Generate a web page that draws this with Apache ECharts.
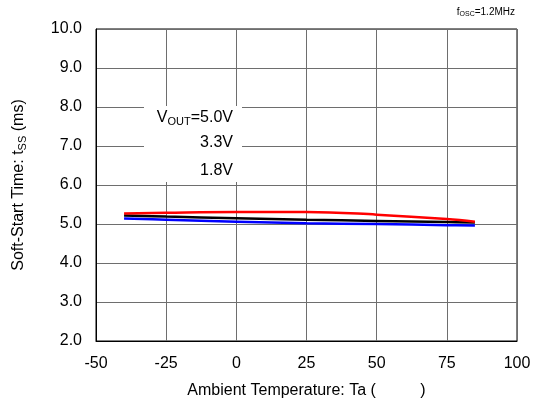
<!DOCTYPE html>
<html><head><meta charset="utf-8">
<script src="https://cdn.jsdelivr.net/npm/echarts@6/dist/echarts.min.js"></script>
<style>html,body{margin:0;padding:0;background:#fff}#c{width:536px;height:407px}</style>
</head><body><div id="c"></div>
<script>
const temps = [-40, -25, 0, 25, 50, 75, 85];
const v50 = [5.27, 5.29, 5.31, 5.31, 5.24, 5.13, 5.06];
const v33 = [5.22, 5.19, 5.15, 5.11, 5.08, 5.05, 5.04];
const v18 = [5.14, 5.11, 5.06, 5.02, 5.00, 4.97, 4.96];
const xTicks = [-50, -25, 0, 25, 50, 75, 100];
const yTicks = [2, 3, 4, 5, 6, 7, 8, 9, 10];
const seriesNames = ['5.0V', '3.3V', '1.8V'];
const colors = ['#ff0000', '#000000', '#0000ff'];

const F = 'Liberation Sans, Arial, sans-serif';
const chart = echarts.init(document.getElementById('c'), null, {renderer: 'canvas'});
const mk = (vals) => temps.map((t, i) => [t, vals[i]]);
chart.setOption({
  animation: false,
  textStyle: {fontFamily: F},
  grid: {left: 96, right: 19, top: 29, bottom: 66, show: true, borderColor: '#000', borderWidth: 1, backgroundColor: 'transparent'},
  xAxis: {
    type: 'value', min: xTicks[0], max: xTicks[xTicks.length - 1], interval: 25,
    name: 'Ambient Temperature: Ta (          )', nameLocation: 'middle', nameGap: 42,
    nameTextStyle: {fontSize: 16, color: '#000', fontFamily: F},
    axisLine: {show: true, onZero: false, lineStyle: {color: '#000', width: 1}},
    axisTick: {show: false},
    axisLabel: {fontSize: 16, color: '#000', margin: 15, fontFamily: F},
    splitLine: {show: true, lineStyle: {color: '#6e6e6e', width: 1}}
  },
  yAxis: {
    type: 'value', min: yTicks[0], max: yTicks[yTicks.length - 1], interval: 1,
    name: 'Soft-Start Time: t{sub|SS} (ms)', nameLocation: 'middle', nameGap: 68, nameRotate: 90,
    nameTextStyle: {fontSize: 16, color: '#000', fontFamily: F,
      rich: {sub: {fontSize: 11, color: '#000', verticalAlign: 'bottom', padding: [7, 0, 0, 0], fontFamily: F}}},
    axisLine: {show: true, onZero: false, lineStyle: {color: '#000', width: 1}},
    axisTick: {show: false},
    axisLabel: {fontSize: 16, color: '#000', margin: 14, fontFamily: F, formatter: v => v.toFixed(1)},
    splitLine: {show: true, lineStyle: {color: '#6e6e6e', width: 1}}
  },
  series: [v50, v33, v18].map((v, i) => ({
    type: 'line', name: seriesNames[i], data: mk(v), smooth: 0.4, showSymbol: false,
    lineStyle: {color: colors[i], width: 2.5}, z: 5 - i
  })),
  graphic: [
    {type: 'rect', shape: {x: 144, y: 106, width: 98, height: 76}, style: {fill: '#fff'}, z: 10},
    {type: 'text', right: 536 - 233, top: 110, z: 11,
      style: {text: 'V{sub|OUT}=5.0V', fill: '#000', font: '16px ' + F,
        rich: {sub: {fontSize: 11, fill: '#000', verticalAlign: 'bottom', padding: [7, 0, 0, 0], fontFamily: F}}}},
    {type: 'text', right: 536 - 233, top: 135, z: 11, style: {text: '3.3V', fill: '#000', font: '16px ' + F}},
    {type: 'text', right: 536 - 233, top: 163, z: 11, style: {text: '1.8V', fill: '#000', font: '16px ' + F}},
    {type: 'text', right: 536 - 515, top: 7, z: 11,
      style: {text: 'f{sub|OSC}=1.2MHz', fill: '#000', font: '10px ' + F,
        rich: {sub: {fontSize: 7, fill: '#000', verticalAlign: 'bottom', padding: [4, 0, 0, 0], fontFamily: F}}}}
  ]
});
</script></body></html>
